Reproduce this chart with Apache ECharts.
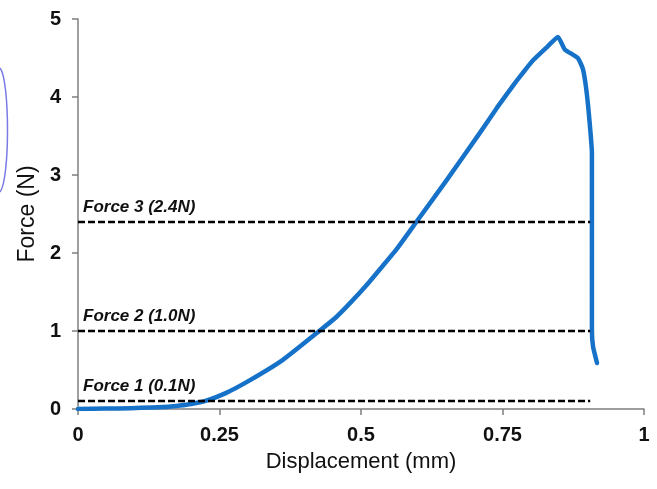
<!DOCTYPE html>
<html>
<head>
<meta charset="utf-8">
<style>
  html, body { margin: 0; padding: 0; background: #fff; }
  #chart { width: 657px; height: 489px; }
</style>
<script src="https://cdn.jsdelivr.net/npm/echarts@6/dist/echarts.min.js"></script>
</head>
<body>
<div id="chart"></div>
<script>
// Load–displacement record of the sample (mm, N)
const displacement = [0, 0.05, 0.093, 0.13, 0.16, 0.18, 0.20, 0.224, 0.26, 0.304, 0.362, 0.428, 0.455, 0.481, 0.51, 0.539, 0.564, 0.599, 0.652, 0.710, 0.740, 0.769, 0.785, 0.804, 0.830, 0.848, 0.860, 0.883, 0.892, 0.898, 0.903, 0.908, 0.908, 0.908, 0.910, 0.917];
const force        = [0, 0.005, 0.01, 0.02, 0.03, 0.045, 0.065, 0.10, 0.20, 0.37, 0.63, 1.01, 1.17, 1.36, 1.59, 1.84, 2.06, 2.41, 2.94, 3.54, 3.86, 4.15, 4.30, 4.47, 4.65, 4.77, 4.61, 4.50, 4.36, 4.10, 3.75, 3.28, 2.41, 1.00, 0.80, 0.59];

// Reference force levels
const levelNames  = ['Force 1 (0.1N)', 'Force 2 (1.0N)', 'Force 3 (2.4N)'];
const levelValues = [0.1, 1.0, 2.4];
const levelEnd    = 0.905;

// Axis ticks
const xTicks = [0, 0.25, 0.5, 0.75, 1];
const yTicks = [0, 1, 2, 3, 4, 5];

const curve = displacement.map((d, i) => [d, force[i]]);

const chart = echarts.init(document.getElementById('chart'), null, { renderer: 'canvas' });

const axisGrey = '#7f7f7f';
const font = '"Liberation Sans", Arial, sans-serif';

chart.setOption({
  animation: false,
  backgroundColor: '#ffffff',
  grid: { left: 78, right: 13, top: 19, bottom: 80 },
  xAxis: {
    type: 'value',
    min: xTicks[0],
    max: xTicks[xTicks.length - 1],
    interval: 0.25,
    name: 'Displacement (mm)',
    nameLocation: 'middle',
    nameGap: 42,
    nameTextStyle: { fontFamily: font, fontSize: 22, color: '#111' },
    axisLine: { lineStyle: { color: axisGrey, width: 1.5 } },
    axisTick: { show: true, length: 6, lineStyle: { color: axisGrey, width: 1.5 } },
    axisLabel: {
      margin: 16,
      fontFamily: font, fontSize: 20, fontWeight: 'bold', color: '#111',
      formatter: v => String(v)
    },
    splitLine: { show: false }
  },
  yAxis: {
    type: 'value',
    min: yTicks[0],
    max: yTicks[yTicks.length - 1],
    interval: 1,
    name: 'Force (N)',
    nameLocation: 'middle',
    nameGap: 37,
    nameTextStyle: { fontFamily: font, fontSize: 23, color: '#111' },
    axisLine: { show: true, lineStyle: { color: axisGrey, width: 1.5 } },
    axisTick: { show: true, length: 6, lineStyle: { color: axisGrey, width: 1.5 } },
    axisLabel: {
      margin: 17,
      fontFamily: font, fontSize: 20, fontWeight: 'bold', color: '#111'
    },
    splitLine: { show: false }
  },
  series: [
    {
      type: 'line',
      name: 'levels',
      data: [],
      markLine: {
        silent: true,
        symbol: ['none', 'none'],
        lineStyle: { color: '#000', type: [7, 3], width: 2.3 },
        label: {
          show: true,
          position: 'insideStartTop',
          distance: [5, 6],
          fontFamily: font, fontSize: 17, fontWeight: 'bold', fontStyle: 'italic', color: '#111',
          formatter: p => p.name
        },
        data: levelValues.map((v, i) => [
          { name: levelNames[i], coord: [0, v] },
          { coord: [levelEnd, v] }
        ])
      }
    },
    {
      type: 'line',
      name: 'Force',
      data: curve,
      showSymbol: false,
      smooth: 0.15,
      lineStyle: { color: '#1672c9', width: 4.5, cap: 'round', join: 'round' },
      z: 3
    }
  ],
  graphic: [
    {
      type: 'bezierCurve',
      silent: true,
      shape: { x1: 0, y1: 68, x2: 0, y2: 192, cpx1: 10, cpy1: 80, cpx2: 10, cpy2: 180 },
      style: { stroke: '#4f4fdc', lineWidth: 1.5, fill: null, opacity: 0.75 }
    }
  ]
});
</script>
</body>
</html>
